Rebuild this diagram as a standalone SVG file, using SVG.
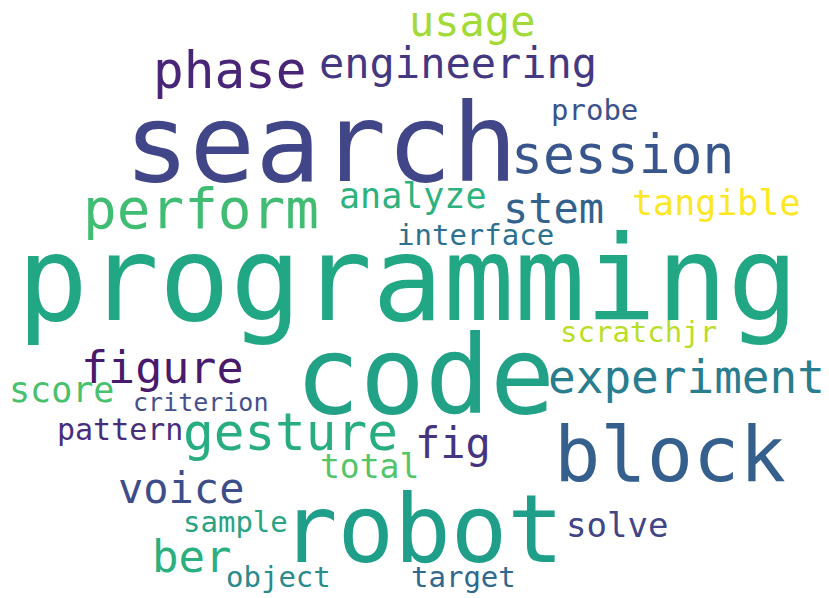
<svg xmlns="http://www.w3.org/2000/svg" width="829" height="598" viewBox="0 0 829 598">
  <style>
    text { font-family: "DejaVu Sans Mono", "Liberation Mono", monospace; }
  </style>
  <rect x="0" y="0" width="829" height="598" fill="#ffffff"/>
  <!-- word cloud terms: x = left edge, y = baseline -->
  <g id="words">
    <g id="w-programming"><text x="17" y="320" font-size="118" fill="#22a785">programming</text></g>
    <g id="w-search"><text x="124" y="181" font-size="109" fill="#404688">search</text></g>
    <g id="w-code"><text x="295" y="413" font-size="108" fill="#21a186">code</text></g>
    <g id="w-robot"><text x="281" y="562" font-size="94" fill="#1f9e89">robot</text></g>
    <g id="w-block"><text x="554" y="481" font-size="77" fill="#355f8d">block</text></g>
    <g id="w-phase"><text x="153" y="88" font-size="51" fill="#482576">phase</text></g>
    <g id="w-engineering"><text x="319" y="78" font-size="42" fill="#453882">engineering</text></g>
    <g id="w-usage"><text x="409" y="36" font-size="42" fill="#a2da37">usage</text></g>
    <g id="w-session"><text x="511" y="173" font-size="53" fill="#39568c">session</text></g>
    <g id="w-probe"><text x="551" y="120" font-size="29" fill="#3b528b">probe</text></g>
    <g id="w-perform"><text x="83" y="228" font-size="56" fill="#40bd72">perform</text></g>
    <g id="w-analyze"><text x="339" y="208" font-size="35" fill="#2db27d">analyze</text></g>
    <g id="w-stem"><text x="503" y="223" font-size="42" fill="#33628d">stem</text></g>
    <g id="w-tangible"><text x="632" y="215" font-size="35" fill="#fde725">tangible</text></g>
    <g id="w-interface"><text x="397" y="245" font-size="29" fill="#2c718e">interface</text></g>
    <g id="w-scratchjr"><text x="560" y="342" font-size="29" fill="#bade28">scratchjr</text></g>
    <g id="w-experiment"><text x="548" y="393" font-size="46" fill="#287d8e">experiment</text></g>
    <g id="w-fig"><text x="415" y="458" font-size="42" fill="#453581">fig</text></g>
    <g id="w-gesture"><text x="183" y="450" font-size="51" fill="#27ad81">gesture</text></g>
    <g id="w-figure"><text x="81" y="383" font-size="45" fill="#481a6c">figure</text></g>
    <g id="w-score"><text x="9" y="402" font-size="35" fill="#48c16e">score</text></g>
    <g id="w-criterion"><text x="133" y="411" font-size="25" fill="#46508a">criterion</text></g>
    <g id="w-pattern"><text x="57" y="440" font-size="30" fill="#472e7c">pattern</text></g>
    <g id="w-total"><text x="320" y="478" font-size="33" fill="#52c569">total</text></g>
    <g id="w-voice"><text x="118" y="503" font-size="42" fill="#3d4d8a">voice</text></g>
    <g id="w-sample"><text x="183" y="532" font-size="29" fill="#2aa383">sample</text></g>
    <g id="w-ber"><text x="152" y="572" font-size="44" fill="#2ab07f">ber</text></g>
    <g id="w-object"><text x="226" y="587" font-size="29" fill="#2a8a8c">object</text></g>
    <g id="w-target"><text x="411" y="587" font-size="29" fill="#31688e">target</text></g>
    <g id="w-solve"><text x="566" y="537" font-size="34" fill="#414487">solve</text></g>
  </g>
  <g id="connectors"></g>
</svg>
